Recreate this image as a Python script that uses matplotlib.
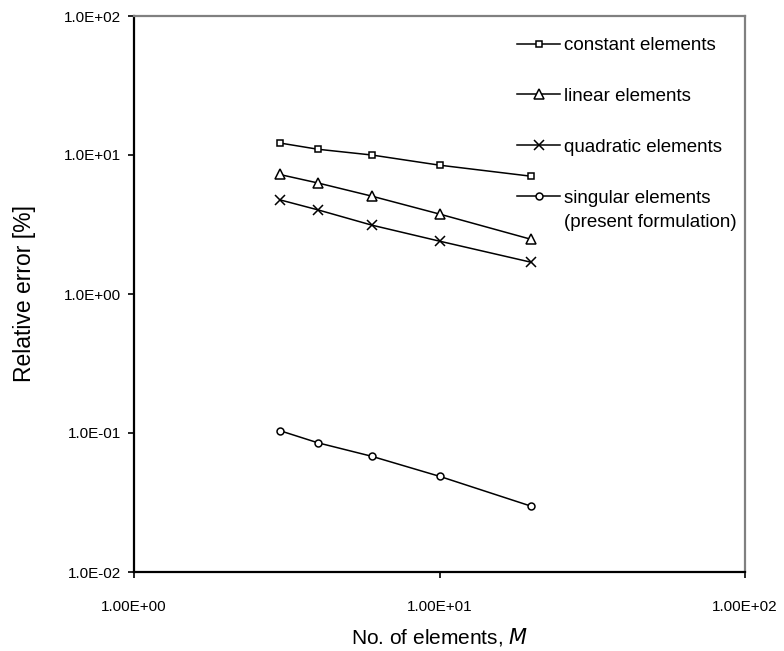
import numpy as np
import matplotlib
matplotlib.use("Agg")
import matplotlib.pyplot as plt
from matplotlib import font_manager

# data
n_elements = [3, 4, 6, 10, 20]
err_constant = [12.2, 11.0, 10.0, 8.45, 7.03]
err_linear = [7.24, 6.29, 5.06, 3.76, 2.47]
err_quadratic = [4.76, 4.03, 3.13, 2.40, 1.69]
err_singular = [0.104, 0.085, 0.068, 0.0488, 0.0297]

x_ticks = [1, 10, 100]
x_tick_labels = ["1.00E+00", "1.00E+01", "1.00E+02"]
y_ticks = [0.01, 0.1, 1, 10, 100]
y_tick_labels = ["1.0E-02", "1.0E-01", "1.0E+00", "1.0E+01", "1.0E+02"]

names = {f.name for f in font_manager.fontManager.ttflist}
if "Liberation Sans Narrow" in names:
    tick_font, tick_size = "Liberation Sans Narrow", 13
else:
    tick_font, tick_size = "Liberation Sans", 11

plt.rcParams["font.family"] = ["Liberation Sans", "DejaVu Sans"]


def main():
    fig = plt.figure(figsize=(7.84, 6.51), dpi=100)
    ax = fig.add_axes([134 / 784, 1 - 572 / 651, 611 / 784, 556 / 651])

    style = dict(color="black", lw=1.1, mfc="white", mec="black", mew=1.1)
    ax.plot(n_elements, err_constant, marker="s", ms=5, label="constant elements", **style)
    ax.plot(n_elements, err_linear, marker="^", ms=6.5, label="linear elements", **style)
    ax.plot(n_elements, err_quadratic, marker="x", ms=7, label="quadratic elements", **style)
    ax.plot(n_elements, err_singular, marker="o", ms=5, label="singular elements", **style)

    ax.set_xscale("log")
    ax.set_yscale("log")
    ax.set_xlim(1, 100)
    ax.set_ylim(0.01, 100)
    ax.set_xticks(x_ticks)
    ax.set_xticklabels(x_tick_labels, fontfamily=tick_font, fontsize=tick_size)
    ax.set_yticks(y_ticks)
    ax.set_yticklabels(y_tick_labels, fontfamily=tick_font, fontsize=tick_size)
    ax.minorticks_off()
    ax.tick_params(axis="x", direction="out", length=4, width=1.2, pad=16, colors="black")
    ax.tick_params(axis="y", direction="out", length=4.3, width=1.2, pad=5, colors="black")

    for side in ("left", "bottom"):
        ax.spines[side].set_color("black")
        ax.spines[side].set_linewidth(1.6)
    for side in ("top", "right"):
        ax.spines[side].set_color("#808080")
        ax.spines[side].set_linewidth(1.6)

    ax.set_xlabel("No. of elements, $\\mathit{M}$", fontsize=15)
    ax.xaxis.set_label_coords(0.5, -0.097)
    ax.set_ylabel("Relative error [%]", fontsize=16.5)
    ax.yaxis.set_label_coords(-0.16, 0.5)

    leg = ax.legend(loc="upper left", bbox_to_anchor=(517 / 784, 1 - 37 / 651),
                    bbox_transform=fig.transFigure, frameon=False, fontsize=13.5,
                    handlelength=2.3, handletextpad=0.2, labelspacing=1.8,
                    borderpad=0, borderaxespad=0)
    # second line of the last legend entry, kept under its first line
    ax.annotate("(present formulation)", xy=(0, 0), xycoords=leg.get_texts()[-1],
                xytext=(0, -5), textcoords="offset points", ha="left", va="top",
                fontsize=13.5, zorder=10)

    plt.savefig("out.png", dpi=100)


if __name__ == "__main__":
    main()
